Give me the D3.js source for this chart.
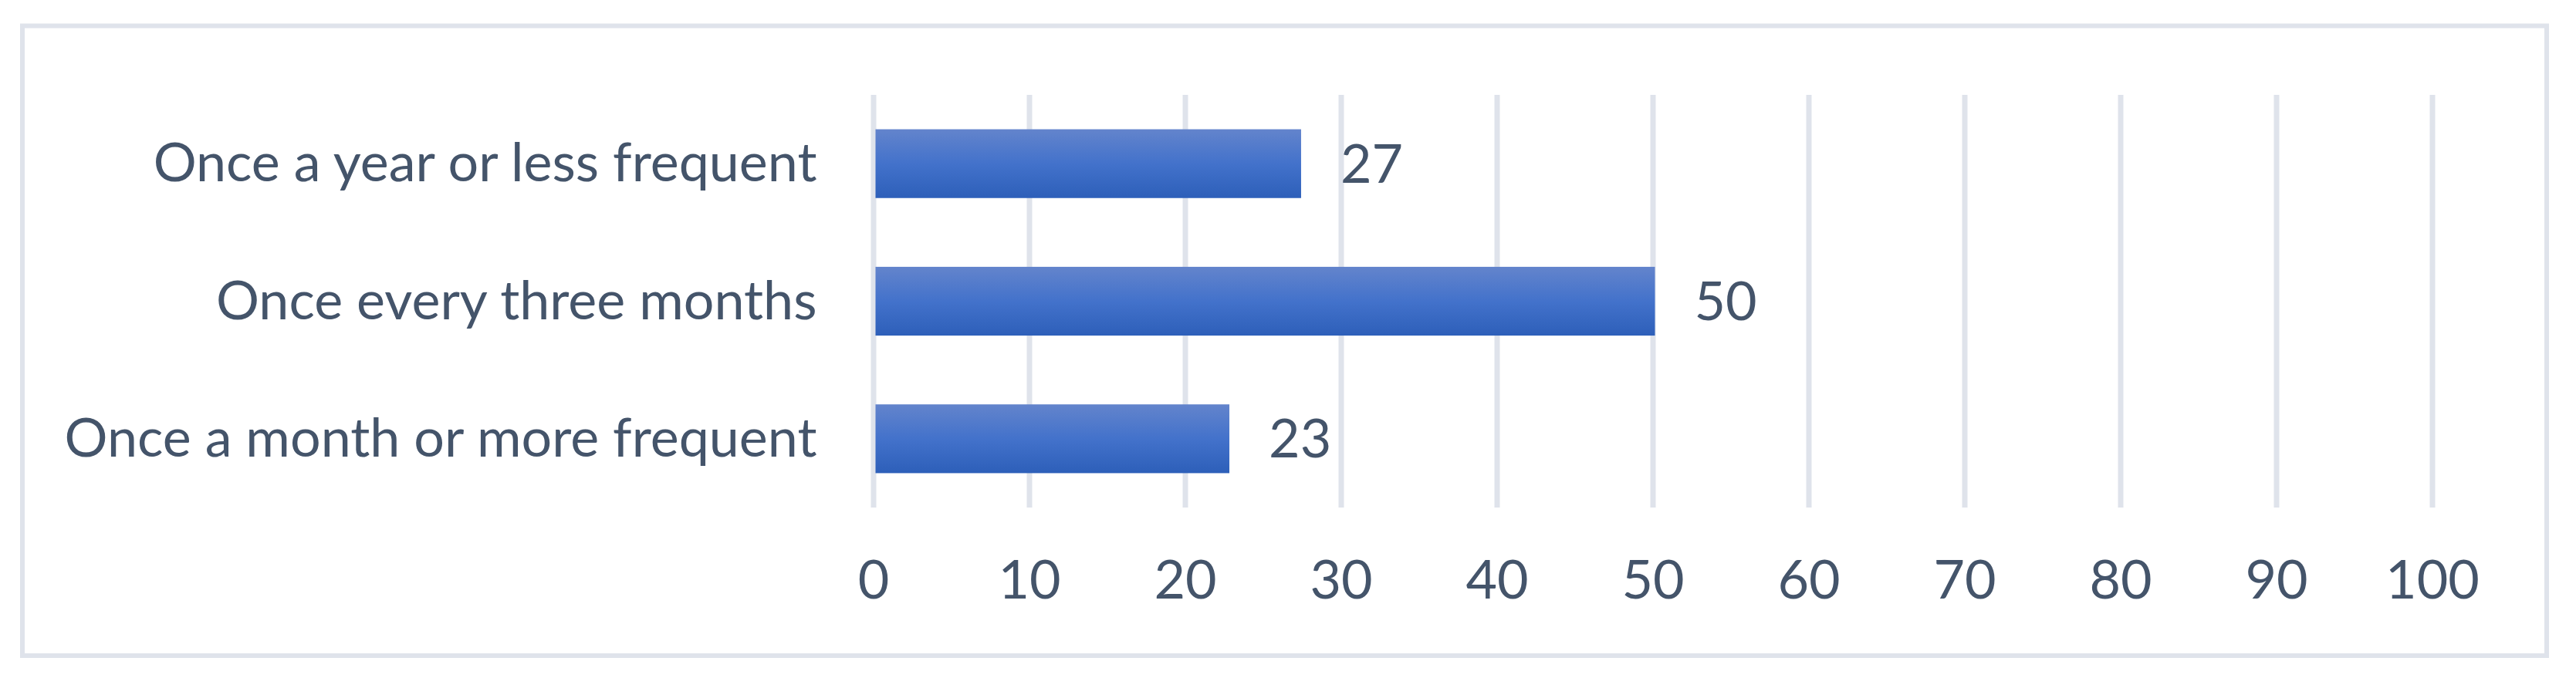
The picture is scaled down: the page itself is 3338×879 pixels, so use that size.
<!DOCTYPE html>
<html>
<head>
<meta charset="utf-8">
<script src="https://cdn.jsdelivr.net/npm/d3@7"></script>
<style>
  html, body { margin: 0; padding: 0; background: #ffffff; }
  svg { display: block; }
</style>
</head>
<body>
<svg id="chart" width="3338" height="879"></svg>
<script>
// ---- data ----
const categories = [
  "Once a year or less frequent",
  "Once every three months",
  "Once a month or more frequent"
];
const values = [27.3, 50, 22.7];
const valueLabels = ["27", "50", "23"];
const xTicks = [0, 10, 20, 30, 40, 50, 60, 70, 80, 90, 100];

// ---- layout ----
const W = 3338, H = 879;
const plot = { left: 1131.5, right: 3151.5, top: 123, bottom: 658 };
const textColor = "#44546a";
const gridColor = "#dfe3eb";
const fontFamily = "Lato, 'Open Sans', sans-serif";
const fontSize = 70;

const svg = d3.select("#chart");

// gradient for bars
const defs = svg.append("defs");
const grad = defs.append("linearGradient")
  .attr("id", "barGrad").attr("x1", 0).attr("y1", 0).attr("x2", 0).attr("y2", 1);
grad.append("stop").attr("offset", "0%").attr("stop-color", "#6384cc");
grad.append("stop").attr("offset", "50%").attr("stop-color", "#4372cb");
grad.append("stop").attr("offset", "100%").attr("stop-color", "#2d5fb9");

// outer border
svg.append("rect")
  .attr("x", 29).attr("y", 33.5)
  .attr("width", 3271).attr("height", 816.5)
  .attr("fill", "#ffffff")
  .attr("stroke", gridColor).attr("stroke-width", 6);

// scales
const x = d3.scaleLinear().domain([0, 100]).range([plot.left, plot.right]);
const y = d3.scaleBand().domain(categories)
  .range([plot.top, plot.bottom])
  .paddingInner(0.5).paddingOuter(0.25);

// x axis with gridlines
const xAxis = svg.append("g")
  .attr("transform", `translate(0,${plot.bottom})`)
  .call(d3.axisBottom(x).tickValues(xTicks).tickFormat(d3.format("d"))
    .tickSize(-(plot.bottom - plot.top)).tickPadding(0));
xAxis.select(".domain").remove();
xAxis.selectAll(".tick line")
  .attr("stroke", gridColor).attr("stroke-width", 7);
xAxis.selectAll(".tick text")
  .attr("y", 118).attr("dy", 0)
  .attr("fill", textColor)
  .style("font-family", fontFamily).style("font-size", fontSize + "px");

// bars
svg.append("g").selectAll("rect")
  .data(categories)
  .join("rect")
  .attr("x", x(0) + 3)
  .attr("y", d => y(d))
  .attr("width", (d, i) => x(values[i]) - x(0))
  .attr("height", y.bandwidth())
  .attr("fill", "url(#barGrad)");

// y axis (category labels)
const yAxis = svg.append("g")
  .attr("transform", `translate(${plot.left},0)`)
  .call(d3.axisLeft(y).tickSize(0).tickPadding(73));
yAxis.select(".domain").remove();
yAxis.selectAll(".tick text")
  .attr("dy", "0.33em")
  .attr("fill", textColor)
  .style("font-family", fontFamily).style("font-size", fontSize + "px");

// value labels
svg.append("g").selectAll("text")
  .data(categories)
  .join("text")
  .attr("x", (d, i) => x(values[i]) + 54)
  .attr("y", d => y(d) + y.bandwidth() / 2)
  .attr("dy", "0.35em")
  .attr("fill", textColor)
  .style("font-family", fontFamily).style("font-size", fontSize + "px")
  .text((d, i) => valueLabels[i]);
</script>
</body>
</html>
